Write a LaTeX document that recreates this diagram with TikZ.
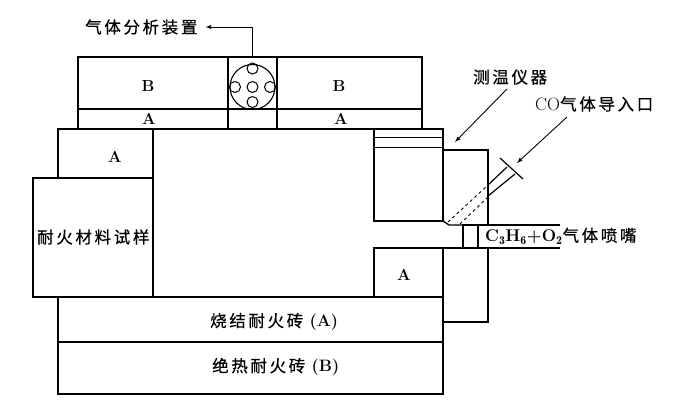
\documentclass[tikz,border=0pt]{standalone}
\usepackage{fontspec}
\newfontfamily\cjk[LetterSpace=16, FakeBold=0.5]{Noto Sans CJK SC}
\usepackage{tikz}
\tikzset{
  wall/.style={draw, line width=1.3pt, anchor=north west, inner sep=0pt, outer sep=0pt},
  hole/.style={draw, circle, line width=1pt, inner sep=0pt, minimum size=11pt},
  label/.style={font=\fontsize{16}{17}\selectfont\bfseries, inner sep=0pt},
  cn/.style={font=\fontsize{16.5}{17}\selectfont\cjk, inner sep=0pt},
  lead/.style={->, line width=0.9pt, >=latex}
}

\begin{document}
\begin{tikzpicture}[x=1pt, y=-1pt]
\useasboundingbox (0,0) rectangle (677,401);

\node[wall, minimum width=150pt, minimum height=52pt] (B left box) at (78,57) {};
\node[wall, minimum width=150pt, minimum height=20pt] (A left box) at (78,109) {};
\node[wall, minimum width=49pt, minimum height=52pt] (analyser box) at (228,57) {};
\node[wall, minimum width=49pt, minimum height=20pt] (analyser base) at (228,109) {};
\node[wall, minimum width=145pt, minimum height=52pt] (B right box) at (277,57) {};
\node[wall, minimum width=145pt, minimum height=20pt] (A right box) at (277,109) {};

\node[wall, minimum width=95pt, minimum height=49pt] (A corner box) at (58,129) {};
\node[wall, minimum width=120pt, minimum height=119pt] (sample box) at (33,178) {};
\node[wall, minimum width=385pt, minimum height=45pt] (sintered box) at (58,297) {};
\node[wall, minimum width=385pt, minimum height=52pt] (insulating box) at (58,342) {};
\node[wall, minimum width=69pt, minimum height=92pt] (upper port box) at (374,129) {};
\node[wall, minimum width=69pt, minimum height=49pt] (A port box) at (374,248) {};
\node[wall, minimum width=45pt, minimum height=74pt] (burner block) at (443,248) {};
\node[wall, minimum width=15pt, minimum height=23pt] (nozzle box) at (463,225) {};

% roof of the chamber and the lining of the port
\draw[line width=1.3pt] (A corner box.north east) -- (upper port box.north west);
\draw[line width=1pt] (374,138) -- (443,138);
\draw[line width=1pt] (374,147) -- (443,147);

% block above the burner
\draw[line width=1.3pt] (443,150) -- (488,150) -- (488,225);
\draw[line width=1.3pt] (upper port box.south east) -- (449,225) -- (nozzle box.north west);
\draw[line width=1.3pt] (nozzle box.north east) -- (560,225);
\draw[line width=1.3pt] (burner block.north west) -- (560,248);

% CO inlet
\draw[line width=0.9pt, dashed] (448,222) -- (488,185);
\draw[line width=0.9pt, dashed] (460,224) -- (488,197);
\draw[line width=1.2pt] (488,185) -- (507,167);
\draw[line width=1.2pt] (488,196) -- (515,174);
\draw[line width=1.2pt] (500,158) -- (523,179);

% analyser
\node[draw, circle, line width=1.1pt, minimum size=45pt, inner sep=0pt] (analyser ring) at (252.5,87) {};
\node[hole] (hole top) at (252.5,68.5) {};
\node[hole] (hole left) at (235,87) {};
\node[hole] (hole mid) at (252.5,87) {};
\node[hole] (hole right) at (270,87) {};
\node[hole] (hole bottom) at (252.5,102) {};

\node[label] (B left) at (148,86) {B};
\node[label] (B right) at (339,86) {B};
\node[label] (A left) at (149,119) {A};
\node[label] (A right) at (341,119) {A};
\node[label] (A corner) at (115,157) {A};
\node[label] (A port) at (404,275) {A};

\node[cn, anchor=west] (sample label) at (37,237) {耐火材料试样};
\node[cn, anchor=west] (sintered label) at (210,322) {烧结耐火砖 {\rmfamily\bfseries (A)}};
\node[cn, anchor=west] (insulating label) at (212,367) {绝热耐火砖 {\rmfamily\bfseries (B)}};
\node[cn, anchor=west] (analyser label) at (85,27) {气体分析装置};
\node[cn, anchor=west] (thermo label) at (473,77) {测温仪器};
\node[cn, anchor=west] (CO label) at (535,104) {{\fontsize{18}{18}\rmfamily CO}气体导入口};
\node[cn, anchor=west] (burner label) at (485,236) {{\fontsize{17}{18}\selectfont\rmfamily\bfseries C$_{\mathbf 3}$H$_{\mathbf 6}$+O$_{\mathbf 2}$}气体喷嘴};

\coordinate (thermo tip) at (455,142);
\coordinate (CO tip) at (517,163);
\draw[lead] (analyser box.north) |- ([xshift=8pt]analyser label.east);
\draw[lead] (507,89) -- (thermo tip);
\draw[lead] (567,117) -- (CO tip);
\end{tikzpicture}
\end{document}
